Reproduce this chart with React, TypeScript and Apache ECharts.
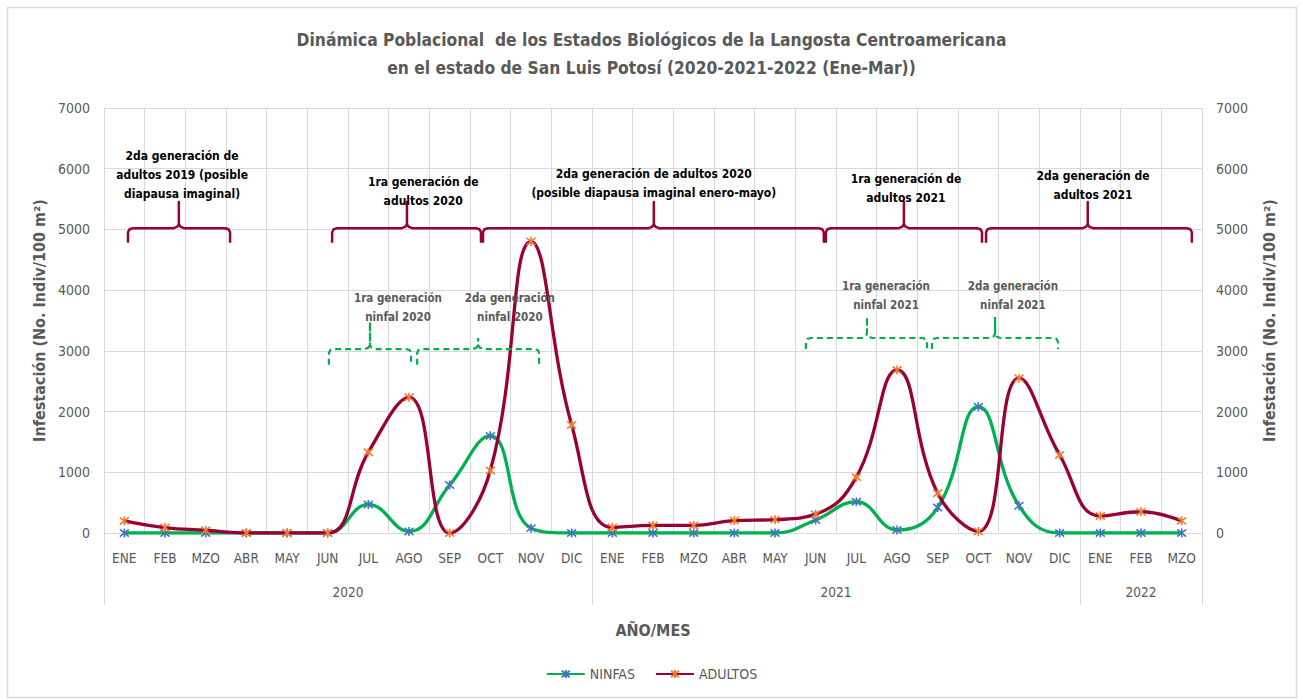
import React, { useEffect, useRef } from 'react';
import * as echarts from 'echarts';

const months = ['ENE','FEB','MZO','ABR','MAY','JUN','JUL','AGO','SEP','OCT','NOV','DIC','ENE','FEB','MZO','ABR','MAY','JUN','JUL','AGO','SEP','OCT','NOV','DIC','ENE','FEB','MZO'];
const years = ['2020', '2021', '2022'];
const yearMonthCounts = [12, 12, 3];
const ninfas = [0,0,0,0,0,0,470,25,790,1600,80,0, 0,0,0,0,0,215,515,50,420,2080,450,0, 0,0,0];
const adultos = [200,90,45,0,0,0,1330,2235,0,1030,4800,1780, 90,125,125,205,220,310,920,2685,655,25,2550,1285, 280,350,200];
const yMin = 0;
const yMax = 7000;
const yInterval = 1000;

const FONT = "'DejaVu Sans Condensed', 'DejaVu Sans', sans-serif";
const GRAY = '#595959';
const GRID = '#d9d9d9';
const ADULT_LINE = '#990033';
const NYMPH_LINE = '#00B050';
const STAR = 'path://M1,1L9,9M9,1L1,9M5,0L5,10';

// annotation layout (x in month units from the axis start, y in data units)
const adultNotes = [
  { from: 0.59, to: 3.10, mid: 1.84, tx: 1.92, ty: 5900, text: '2da generación de\nadultos 2019 (posible\ndiapausa imaginal)' },
  { from: 5.61, to: 9.27, mid: 7.45, tx: 7.85, ty: 5620, text: '1ra generación de\nadultos 2020' },
  { from: 9.32, to: 17.70, mid: 13.52, tx: 13.52, ty: 5760, text: '2da generación de adultos 2020\n(posible diapausa imaginal enero-mayo)' },
  { from: 17.75, to: 21.59, mid: 19.67, tx: 19.72, ty: 5675, text: '1ra generación de\nadultos 2021' },
  { from: 21.69, to: 26.75, mid: 24.19, tx: 24.32, ty: 5716, text: '2da generación de\nadultos 2021' },
];
const nymphNotes = [
  { from: 5.53, to: 7.55, mid: 6.54, top: 3030, end: 2770, spike: 3475, tx: 7.23, ty: 3714, text: '1ra generación\nninfal 2020' },
  { from: 7.70, to: 10.70, mid: 9.20, top: 3030, end: 2770, spike: 3212, tx: 9.98, ty: 3714, text: '2da generación\nninfal 2020' },
  { from: 17.26, to: 20.24, mid: 18.76, top: 3212, end: 3030, spike: 3558, tx: 19.23, ty: 3904, text: '1ra generación\nninfal 2021' },
  { from: 20.36, to: 23.46, mid: 21.91, top: 3212, end: 3030, spike: 3558, tx: 22.35, ty: 3904, text: '2da generación\nninfal 2021' },
];

export default function App() {
  const ref = useRef<HTMLDivElement>(null);
  useEffect(() => {
    const chart = echarts.init(ref.current!, null, { renderer: 'svg' });
    const bounds: number[] = [0];
    yearMonthCounts.forEach((c) => bounds.push(bounds[bounds.length - 1] + c));
    const centers = yearMonthCounts.map((c, i) => bounds[i] + c / 2);
    const total = bounds[bounds.length - 1];

    const option: any = {
      animation: false,
      backgroundColor: '#fff',
      textStyle: { fontFamily: FONT },
      title: {
        text: 'Dinámica Poblacional  de los Estados Biológicos de la Langosta Centroamericana\nen el estado de San Luis Potosí (2020-2021-2022 (Ene-Mar))',
        left: 'center',
        top: 21,
        textStyle: { fontFamily: FONT, fontSize: 17.3, fontWeight: 'bold', color: GRAY, lineHeight: 28 },
      },
      legend: {
        bottom: 14,
        left: 'center',
        itemWidth: 38,
        itemHeight: 10,
        itemGap: 20,
        textStyle: { fontFamily: FONT, fontSize: 14, color: GRAY },
        data: ['NINFAS', 'ADULTOS'],
      },
      grid: { left: 104, right: 101, top: 108, bottom: 167, containLabel: false },
      xAxis: [
        {
          type: 'category',
          data: months,
          position: 'bottom',
          boundaryGap: true,
          axisLine: { show: true, lineStyle: { color: GRID, width: 1 } },
          axisTick: { show: false },
          splitLine: { show: true, interval: 0, lineStyle: { color: GRID, width: 1 } },
          axisLabel: { interval: 0, color: GRAY, fontSize: 13.5, margin: 18, fontFamily: FONT },
          name: 'AÑO/MES',
          nameLocation: 'middle',
          nameGap: 89,
          nameTextStyle: { fontFamily: FONT, fontSize: 16, fontWeight: 'bold', color: GRAY },
        },
        {
          type: 'value',
          min: 0,
          max: total,
          position: 'bottom',
          axisLine: { show: false },
          splitLine: { show: false },
          axisTick: { show: true, customValues: bounds, length: 72, lineStyle: { color: GRID, width: 1 } },
          axisLabel: {
            customValues: centers,
            formatter: (v: number) => years[centers.indexOf(v)] ?? '',
            color: GRAY,
            fontSize: 13.5,
            margin: 52,
            fontFamily: FONT,
          },
        },
      ],
      yAxis: [
        {
          type: 'value',
          position: 'left',
          min: yMin,
          max: yMax,
          interval: yInterval,
          axisLine: { show: false },
          axisTick: { show: false },
          splitLine: { show: true, lineStyle: { color: GRID, width: 1 } },
          axisLabel: { color: GRAY, fontSize: 14, margin: 14, fontFamily: FONT, formatter: (v: number) => String(v) },
          name: 'Infestación (No. Indiv/100 m²)',
          nameLocation: 'middle',
          nameRotate: 90,
          nameGap: 46,
          nameTextStyle: { fontFamily: FONT, fontSize: 16, fontWeight: 'bold', color: GRAY },
        },
        {
          type: 'value',
          position: 'right',
          min: yMin,
          max: yMax,
          interval: yInterval,
          axisLine: { show: false },
          axisTick: { show: false },
          splitLine: { show: false },
          axisLabel: { color: GRAY, fontSize: 14, margin: 14, fontFamily: FONT, formatter: (v: number) => String(v) },
          name: 'Infestación (No. Indiv/100 m²)',
          nameLocation: 'middle',
          nameRotate: 90,
          nameGap: 59,
          nameTextStyle: { fontFamily: FONT, fontSize: 16, fontWeight: 'bold', color: GRAY },
        },
      ],
      series: [
        {
          name: 'NINFAS',
          type: 'line',
          data: ninfas,
          xAxisIndex: 0,
          yAxisIndex: 0,
          smooth: 0.45,
          clip: true,
          symbol: STAR,
          symbolSize: 9,
          showAllSymbol: true,
          lineStyle: { color: NYMPH_LINE, width: 3.3 },
          itemStyle: { color: '#4472C4', borderColor: '#4472C4', borderWidth: 1.6 },
          emphasis: { disabled: true },
          z: 2,
        },
        {
          name: 'ADULTOS',
          type: 'line',
          data: adultos,
          xAxisIndex: 0,
          yAxisIndex: 0,
          smooth: 0.45,
          clip: true,
          symbol: STAR,
          symbolSize: 9,
          showAllSymbol: true,
          lineStyle: { color: ADULT_LINE, width: 3.3 },
          itemStyle: { color: '#ED7D31', borderColor: '#ED7D31', borderWidth: 1.6 },
          emphasis: { disabled: true },
          z: 3,
        },
      ],
    };
    chart.setOption(option);

    const px = (v: number) => chart.convertToPixel({ xAxisIndex: 1 }, v) as number;
    const py = (v: number) => chart.convertToPixel({ yAxisIndex: 0 }, v) as number;

    const bracket = (from: number, to: number, mid: number, top: number, end: number, spike: number) => {
      const x1 = px(from), x2 = px(to), xm = px(mid);
      const yT = py(top), yE = py(end), yS = py(spike);
      return [
        [x1, yE], [x1, yT + 4], [x1 + 1.5, yT + 1], [x1 + 5, yT],
        [xm - 5, yT], [xm - 1.5, yT - 1.5], [xm, yT - 4], [xm, yS],
        [xm, yT - 4], [xm + 1.5, yT - 1.5], [xm + 5, yT],
        [x2 - 5, yT], [x2 - 1.5, yT + 1], [x2, yT + 4], [x2, yE],
      ];
    };

    const elements: any[] = [
      {
        type: 'rect',
        shape: { x: 7.5, y: 7.5, width: 1289, height: 690 },
        style: { fill: 'none', stroke: GRID, lineWidth: 1.5 },
        silent: true,
        z: 0,
      },
    ];
    adultNotes.forEach((n) => {
      elements.push({
        type: 'polyline',
        shape: { points: bracket(n.from, n.to, n.mid, 5020, 4780, 5450) },
        style: { stroke: ADULT_LINE, lineWidth: 2.5, fill: 'none', lineJoin: 'round' },
        z: 100,
        silent: true,
      });
      elements.push({
        type: 'text',
        x: px(n.tx),
        y: py(n.ty),
        style: {
          text: n.text,
          align: 'center',
          verticalAlign: 'middle',
          fill: '#000',
          font: `bold 12px ${FONT}`,
          lineHeight: 19,
        },
        z: 100,
        silent: true,
      });
    });
    nymphNotes.forEach((n) => {
      elements.push({
        type: 'polyline',
        shape: { points: bracket(n.from, n.to, n.mid, n.top, n.end, n.spike) },
        style: { stroke: NYMPH_LINE, lineWidth: 2.2, fill: 'none', lineDash: [6, 4] },
        z: 100,
        silent: true,
      });
      elements.push({
        type: 'text',
        x: px(n.tx),
        y: py(n.ty),
        style: {
          text: n.text,
          align: 'center',
          verticalAlign: 'middle',
          fill: GRAY,
          font: `bold 11.5px ${FONT}`,
          lineHeight: 19,
        },
        z: 100,
        silent: true,
      });
    });
    chart.setOption({ graphic: elements });

    return () => chart.dispose();
  }, []);
  return (
    <div
      ref={ref}
      style={{ position: 'absolute', left: 0, top: 0, width: 1303, height: 700, background: '#fff' }}
    />
  );
}
